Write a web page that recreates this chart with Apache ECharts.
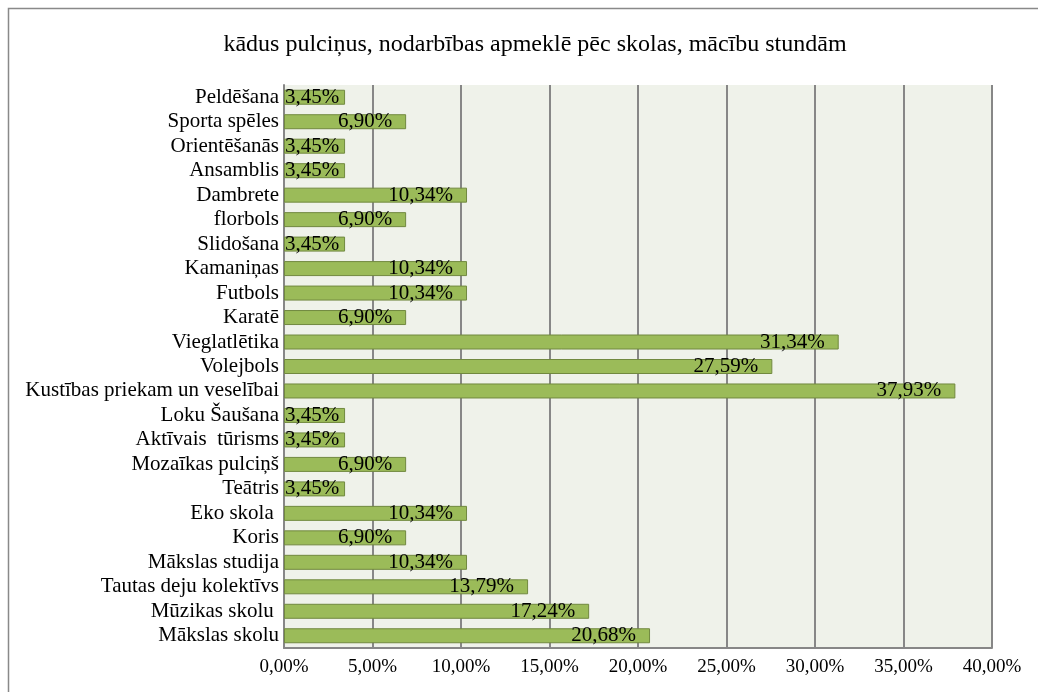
<!DOCTYPE html>
<html>
<head>
<meta charset="utf-8">
<script src="https://cdn.jsdelivr.net/npm/echarts@6/dist/echarts.min.js"></script>
<style>
  html, body { margin: 0; padding: 0; background: #fff; }
  #chart { width: 1038px; height: 692px; }
</style>
</head>
<body>
<div id="chart"></div>
<script>
// categories, top to bottom as in the picture
var categories = [
  'Peldēšana', 'Sporta spēles', 'Orientēšanās', 'Ansamblis', 'Dambrete',
  'florbols', 'Slidošana', 'Kamaniņas', 'Futbols', 'Karatē',
  'Vieglatlētika', 'Volejbols', 'Kustības priekam un veselībai', 'Loku Šaušana',
  'Aktīvais  tūrisms', 'Mozaīkas pulciņš', 'Teātris', 'Eko skola ', 'Koris',
  'Mākslas studija', 'Tautas deju kolektīvs', 'Mūzikas skolu ', 'Mākslas skolu'
];
var values = [
  3.45, 6.90, 3.45, 3.45, 10.34,
  6.90, 3.45, 10.34, 10.34, 6.90,
  31.34, 27.59, 37.93, 3.45,
  3.45, 6.90, 3.45, 10.34, 6.90,
  10.34, 13.79, 17.24, 20.68
];
var xTicks = [0, 5, 10, 15, 20, 25, 30, 35, 40];

var serif = '"Liberation Serif", "DejaVu Serif", serif';

function pct(v) {
  return v.toFixed(2).replace('.', ',') + '%';
}

var chart = echarts.init(document.getElementById('chart'));

// short bars: the label does not fit, so it starts at the bar's base
var barData = values.map(function (v) {
  if (v < 5) {
    return { value: v, label: { position: 'insideLeft', distance: 1 } };
  }
  return v;
});

chart.setOption({
  animation: false,
  title: {
    text: 'kādus pulciņus, nodarbības apmeklē pēc skolas, mācību stundām',
    left: 530,
    textAlign: 'center',
    top: 28,
    textStyle: { fontFamily: serif, fontSize: 24, fontWeight: 'normal', color: '#000' }
  },
  graphic: [{
    type: 'rect',
    shape: { x: 8.5, y: 8.5, width: 1100, height: 800 },
    style: { fill: 'none', stroke: '#898989', lineWidth: 1.5 },
    z: -10
  }],
  grid: {
    left: 284, right: 46, top: 85, bottom: 44,
    show: true,
    backgroundColor: '#EFF2EA',
    borderWidth: 0
  },
  xAxis: {
    type: 'value',
    min: xTicks[0],
    max: xTicks[xTicks.length - 1],
    interval: 5,
    axisLine: { show: true, lineStyle: { color: '#878787', width: 2 } },
    axisTick: { show: false },
    axisLabel: {
      formatter: function (v) { return pct(v); },
      fontFamily: serif, fontSize: 19, color: '#000', margin: 10
    },
    splitLine: { show: true, lineStyle: { color: '#878787', width: 2 } }
  },
  yAxis: {
    type: 'category',
    data: categories,
    inverse: true,
    axisLine: { show: true, lineStyle: { color: '#878787', width: 2 } },
    axisTick: { show: false },
    axisLabel: { interval: 0, fontFamily: serif, fontSize: 21, color: '#000', margin: 5 },
    splitLine: { show: false }
  },
  series: [{
    type: 'bar',
    data: barData,
    barWidth: 15,
    itemStyle: { color: '#9BBB59', borderColor: '#71893F', borderWidth: 1 },
    label: {
      show: true,
      position: 'insideRight',
      distance: 14,
      formatter: function (p) { return pct(p.value); },
      fontFamily: serif, fontSize: 21, color: '#000'
    }
  }]
});
</script>
</body>
</html>
